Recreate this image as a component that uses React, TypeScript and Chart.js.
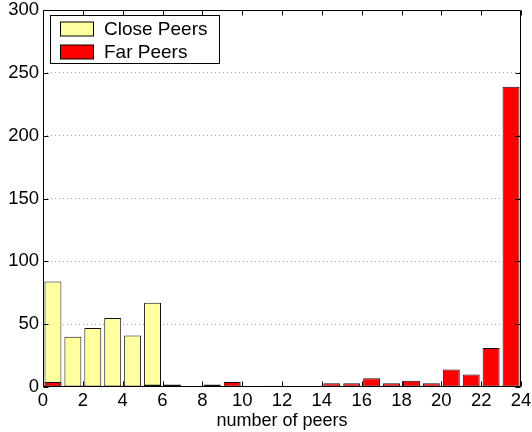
import React, { useEffect, useRef } from "react";
import { Chart, registerables } from "chart.js";

Chart.register(...registerables);

// Histogram bins: bin i covers [i, i+1) peers
const binStarts: number[] = Array.from({ length: 24 }, (_, i) => i);
const closePeers: number[] = [84, 40, 47, 55, 41, 67, 0, 0, 0, 0, 0, 0, 0, 0, 0, 0, 0, 0, 0, 0, 0, 0, 0, 0];
const farPeers: number[] = [4, 0, 0, 1, 0, 2, 2, 0, 2, 4, 0, 1, 0, 0, 3, 3, 7, 3, 5, 3, 14, 10, 31, 239];
const seriesLabels: string[] = ["Close Peers", "Far Peers"];
const seriesColors: string[] = ["#ffffa0", "#ff0000"];
const xTickValues: number[] = [0, 2, 4, 6, 8, 10, 12, 14, 16, 18, 20, 22, 24];
const yTickValues: number[] = [0, 50, 100, 150, 200, 250, 300];

const FONT = "'Liberation Sans', Arial, Helvetica, sans-serif";

// Draws the boxed axes with inward ticks and the inset legend
const boxAndLegend = {
  id: "boxAndLegend",
  afterDraw(chart: any) {
    const { ctx } = chart;
    const xs = chart.scales.x;
    const ys = chart.scales.y;
    ctx.save();
    ctx.strokeStyle = "#000";
    ctx.lineWidth = 1;
    const L = Math.round(xs.getPixelForValue(0)) + 0.5;
    const R = Math.round(xs.getPixelForValue(24)) - 0.5;
    const T = Math.round(ys.getPixelForValue(300)) + 0.5;
    const B = Math.round(ys.getPixelForValue(0)) - 0.5;
    ctx.beginPath();
    ctx.rect(L, T, R - L, B - T);
    const tl = 5;
    for (const v of yTickValues) {
      const y = Math.round(ys.getPixelForValue(v)) + 0.5;
      ctx.moveTo(L, y);
      ctx.lineTo(L + tl, y);
      ctx.moveTo(R, y);
      ctx.lineTo(R - tl, y);
    }
    for (const v of xTickValues) {
      const x = Math.round(xs.getPixelForValue(v)) + 0.5;
      ctx.moveTo(x, B);
      ctx.lineTo(x, B - tl);
      ctx.moveTo(x, T);
      ctx.lineTo(x, T + tl);
    }
    ctx.stroke();

    // legend box
    const lx = 50.5, ly = 15.5, lw = 169, lh = 48;
    ctx.fillStyle = "#fff";
    ctx.fillRect(lx, ly, lw, lh);
    ctx.strokeRect(lx, ly, lw, lh);
    ctx.font = `19px ${FONT}`;
    ctx.textBaseline = "middle";
    ctx.textAlign = "left";
    const rows = [29, 52];
    chart.data.datasets.forEach((ds: any, i: number) => {
      const cy = rows[i];
      ctx.fillStyle = ds.backgroundColor;
      ctx.fillRect(60.5, cy - 7, 33, 14);
      ctx.strokeStyle = "#000";
      ctx.strokeRect(60.5, cy - 7, 33, 14);
      ctx.fillStyle = "#000";
      ctx.fillText(ds.label, 104, cy + 1);
    });
    ctx.restore();
  },
};

export default function App() {
  const canvasRef = useRef<HTMLCanvasElement | null>(null);

  useEffect(() => {
    if (!canvasRef.current) return;
    const toPoints = (vals: number[]) => vals.map((v, i) => ({ x: binStarts[i] + 0.5, y: v }));
    const chart = new Chart(canvasRef.current, {
      type: "bar",
      data: {
        datasets: [
          {
            label: seriesLabels[0],
            data: toPoints(closePeers),
            backgroundColor: seriesColors[0],
            borderColor: "#111",
            borderWidth: 1,
            borderSkipped: false,
            order: 2,
          },
          {
            label: seriesLabels[1],
            data: toPoints(farPeers),
            backgroundColor: seriesColors[1],
            borderColor: "#111",
            borderWidth: 1,
            borderSkipped: false,
            order: 1,
          },
        ],
      },
      options: {
        animation: false,
        responsive: false,
        devicePixelRatio: 1,
        grouped: false,
        barPercentage: 0.85,
        categoryPercentage: 1,
        layout: { padding: { top: 10, right: 11, left: 0, bottom: 0 } },
        plugins: {
          legend: { display: false },
          tooltip: { enabled: false },
        },
        scales: {
          x: {
            type: "linear",
            min: 0,
            max: 24,
            offset: false,
            afterBuildTicks: (s: any) => {
              s.ticks = xTickValues.map((v) => ({ value: v }));
            },
            afterFit: (s: any) => {
              s.height = 45;
              s.paddingLeft = 0;
              s.paddingRight = 0;
            },
            grid: { display: false, drawTicks: false, offset: false },
            border: { display: false },
            ticks: {
              color: "#000",
              font: { family: FONT, size: 18.5 },
              padding: 3,
              maxRotation: 0,
              autoSkip: false,
            },
            title: {
              display: true,
              text: "number of peers",
              color: "#000",
              font: { family: FONT, size: 18 },
              padding: { top: 0, bottom: 0 },
            },
          },
          y: {
            type: "linear",
            min: 0,
            max: 300,
            afterBuildTicks: (s: any) => {
              s.ticks = yTickValues.map((v) => ({ value: v }));
            },
            afterFit: (s: any) => {
              s.width = 43;
              s.paddingTop = 0;
              s.paddingBottom = 0;
            },
            grid: {
              drawTicks: false,
              color: (c: any) =>
                c.tick && (c.tick.value === 0 || c.tick.value === 300) ? "rgba(0,0,0,0)" : "#a8a8a8",
              lineWidth: 1,
            },
            border: { display: false, dash: [1, 3] },
            ticks: {
              color: "#000",
              font: { family: FONT, size: 18.5 },
              padding: 4,
              autoSkip: false,
            },
          },
        },
      },
      plugins: [boxAndLegend],
    } as any);
    return () => chart.destroy();
  }, []);

  return (
    <div style={{ position: "fixed", left: 0, top: 0, width: 532, height: 432, background: "#fff" }}>
      <canvas ref={canvasRef} width={532} height={432} style={{ display: "block" }} />
    </div>
  );
}
